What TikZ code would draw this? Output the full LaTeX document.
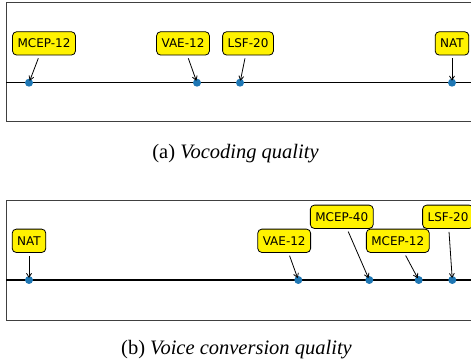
\documentclass[tikz,border=0pt]{standalone}
\usepackage{fontspec}
\setmainfont{Liberation Serif}
\newfontfamily\lblfont{DejaVu Sans}
\usetikzlibrary{arrows.meta}
\begin{document}
\begin{tikzpicture}[x=1pt,y=-1pt,
  frame/.style={draw=black!75,line width=1pt},
  axis/.style={draw=black,line width=1.5pt},
  dot/.style={circle,fill=mplblue,inner sep=0pt,minimum size=8pt},
  lbl/.style={draw=black,fill=yellow,rounded corners=4pt,line width=0.8pt,
    font=\lblfont\fontsize{12}{14}\selectfont,inner xsep=5pt,inner ysep=0pt,
    minimum height=23.3pt,text height=9pt,text depth=0pt},
  arr/.style={draw=black,line width=0.8pt,-{Straight Barb[length=4pt,width=5pt]},shorten <=3pt,shorten >=2pt},
  captext/.style={font=\fontsize{20.5}{24}\selectfont,anchor=base}]
\definecolor{mplblue}{HTML}{1F77B4}
\useasboundingbox (0,0) rectangle (471,363);
\clip (0,0) rectangle (471,363);
% panel a
\draw[frame] (6,3) rectangle (478,122);
\draw[axis] (6,82.7) -- (478,82.7);
\node[dot] (a1) at (29,82.7) {};
\node[dot] (a2) at (197,82.7) {};
\node[dot] (a3) at (240,82.7) {};
\node[dot] (a4) at (452,82.7) {};
\node[lbl] (la1) at (44,43.4) {MCEP-12};
\node[lbl] (la2) at (183,43.4) {VAE-12};
\node[lbl] (la3) at (248,43.4) {LSF-20};
\node[lbl] (la4) at (452,43.4) {NAT};
\draw[arr] (la1) -- (a1.center);
\draw[arr] (la2) -- (a2.center);
\draw[arr] (la3) -- (a3.center);
\draw[arr] (la4) -- (a4.center);
\node[captext] (capa) at (235.5,159) {(a) \textit{Vocoding quality}};
% panel b
\draw[frame] (6,201) rectangle (478,320);
\draw[axis] (6,280) -- (478,280);
\node[dot] (b1) at (29,280) {};
\node[dot] (b2) at (298.3,280) {};
\node[dot] (b3) at (369.3,280) {};
\node[dot] (b4) at (418.7,280) {};
\node[dot] (b5) at (452.3,280) {};
\node[lbl] (lb1) at (29,240.8) {NAT};
\node[lbl] (lb2) at (284.2,240.8) {VAE-12};
\node[lbl] (lb3) at (341.8,216.8) {MCEP-40};
\node[lbl] (lb4) at (397.8,240.8) {MCEP-12};
\node[lbl] (lb5) at (448,216.8) {LSF-20};
\draw[arr] (lb1) -- (b1.center);
\draw[arr] (lb2) -- (b2.center);
\draw[arr] (lb3) -- (b3.center);
\draw[arr] (lb4) -- (b4.center);
\draw[arr] (lb5) -- (b5.center);
\node[captext] (capb) at (236.5,354) {(b) \textit{Voice conversion quality}};
\end{tikzpicture}
\end{document}
